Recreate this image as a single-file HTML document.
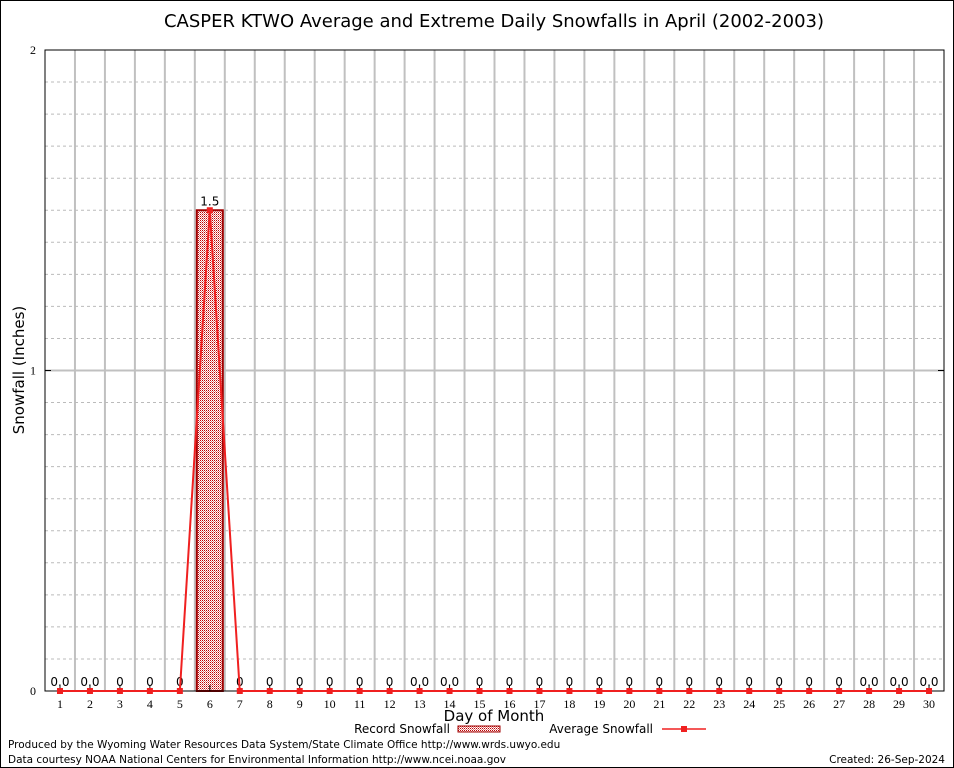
<!DOCTYPE html>
<html><head><meta charset="utf-8"><style>body{margin:0;background:#fff}svg{display:block}</style></head>
<body>
<svg id="chart" width="954" height="768" xmlns="http://www.w3.org/2000/svg" font-family="DejaVu Sans, sans-serif">
<defs>
<pattern id="hatch" width="2" height="2" patternUnits="userSpaceOnUse"><rect width="2" height="2" fill="#fff"/><rect width="1" height="1" fill="#c00000"/><rect x="1" y="1" width="1" height="1" fill="#e08080"/></pattern>
</defs>
<rect x="0.5" y="0.5" width="953" height="767" fill="#fff" stroke="#000"/>
<text x="494" y="27" font-size="18" text-anchor="middle">CASPER KTWO Average and Extreme Daily Snowfalls in April (2002-2003)</text>
<g id="grid"></g>
<g id="marks"></g>
<rect x="45" y="50" width="899" height="641" fill="none" stroke="#000"/>
<text transform="translate(24,370) rotate(-90)" font-size="15" text-anchor="middle">Snowfall (Inches)</text>
<text x="494" y="721" font-size="15" text-anchor="middle">Day of Month</text>
<g>
<text x="450" y="733" font-size="12" text-anchor="end">Record Snowfall</text>
<rect x="458" y="726" width="42" height="6" fill="url(#hatch)" stroke="#a00000"/>
<text x="653" y="733" font-size="12" text-anchor="end">Average Snowfall</text>
<line x1="662" y1="729" x2="706" y2="729" stroke="#f02020" stroke-width="1.5"/>
<rect x="681" y="726" width="6" height="6" fill="#f02020"/>
</g>
<text x="8" y="748" font-size="10.5">Produced by the Wyoming Water Resources Data System/State Climate Office http://www.wrds.uwyo.edu</text>
<text x="8" y="763" font-size="10.5">Data courtesy NOAA National Centers for Environmental Information http://www.ncei.noaa.gov</text>
<text x="945" y="763" font-size="10.5" text-anchor="end">Created:  26-Sep-2024</text>
</svg>
<script>
const days = Array.from({length:30},(_,i)=>i+1);
const recordValues = [0,0,0,0,0,1.5,0,0,0,0,0,0,0,0,0,0,0,0,0,0,0,0,0,0,0,0,0,0,0,0];
const averageValues = [0,0,0,0,0,1.5,0,0,0,0,0,0,0,0,0,0,0,0,0,0,0,0,0,0,0,0,0,0,0,0];
const recordLabels = ["0.0","0.0","0","0","0","1.5","0","0","0","0","0","0","0.0","0.0","0","0","0","0","0","0","0","0","0","0","0","0","0","0.0","0.0","0.0"];
const yTicks = [0,1,2];
const NS='http://www.w3.org/2000/svg';
const X=d=>45+(d-0.5)*29.967;
const Y=v=>691-v*320.5;
const grid=document.getElementById('grid'), marks=document.getElementById('marks'), svg=document.getElementById('chart');
function mk(p,tag,a){const e=document.createElementNS(NS,tag);for(const k in a)e.setAttribute(k,a[k]);p.appendChild(e);return e;}
for(let k=1;k<30;k++){const e=mk(grid,'line',{x1:X(k+0.5),x2:X(k+0.5),y1:50,y2:691,stroke:'#c0c0c0','stroke-width':2});

}
for(let v=0.1;v<2;v+=0.1){if(Math.abs(v-1)<0.01)continue;const e=mk(grid,'line',{x1:45,x2:944,y1:Y(v),y2:Y(v),stroke:'#bbb','stroke-dasharray':'3,3'});

}
yTicks.forEach(t=>{if(t>0&&t<2){const g=mk(grid,'line',{x1:45,x2:944,y1:Y(t),y2:Y(t),stroke:'#c0c0c0','stroke-width':2});

}
const l=mk(svg,'text',{x:36,y:Y(t)+4,'font-size':12,'text-anchor':'end','font-family':'Liberation Serif, serif'});l.textContent=t;


mk(svg,'line',{x1:45,x2:51,y1:Y(t),y2:Y(t),stroke:'#000'});mk(svg,'line',{x1:938,x2:944,y1:Y(t),y2:Y(t),stroke:'#000'});});
days.forEach((d,i)=>{
const v=recordValues[i];
if(v>0){const b=mk(marks,'rect',{x:X(d)-13,y:Y(v),width:26,height:691-Y(v),fill:'url(#hatch)',stroke:'#a00000','stroke-width':2});

}
const t=mk(svg,'text',{x:X(d),y:Y(v)-5,'font-size':12,'text-anchor':'middle'});t.textContent=recordLabels[i];


mk(svg,'line',{x1:X(d),x2:X(d),y1:685,y2:691,stroke:'#000'});
const xl=mk(svg,'text',{x:X(d),y:708,'font-size':12,'text-anchor':'middle','font-family':'Liberation Serif, serif'});xl.textContent=d;


});
const pl=mk(svg,'polyline',{points:days.map((d,i)=>X(d)+','+Y(averageValues[i])).join(' '),fill:'none',stroke:'#f02020','stroke-width':2});


days.forEach((d,i)=>{const m=mk(svg,'rect',{x:X(d)-3,y:Y(averageValues[i])-3,width:6,height:6,fill:'#f02020'});

});
</script>
</body></html>
